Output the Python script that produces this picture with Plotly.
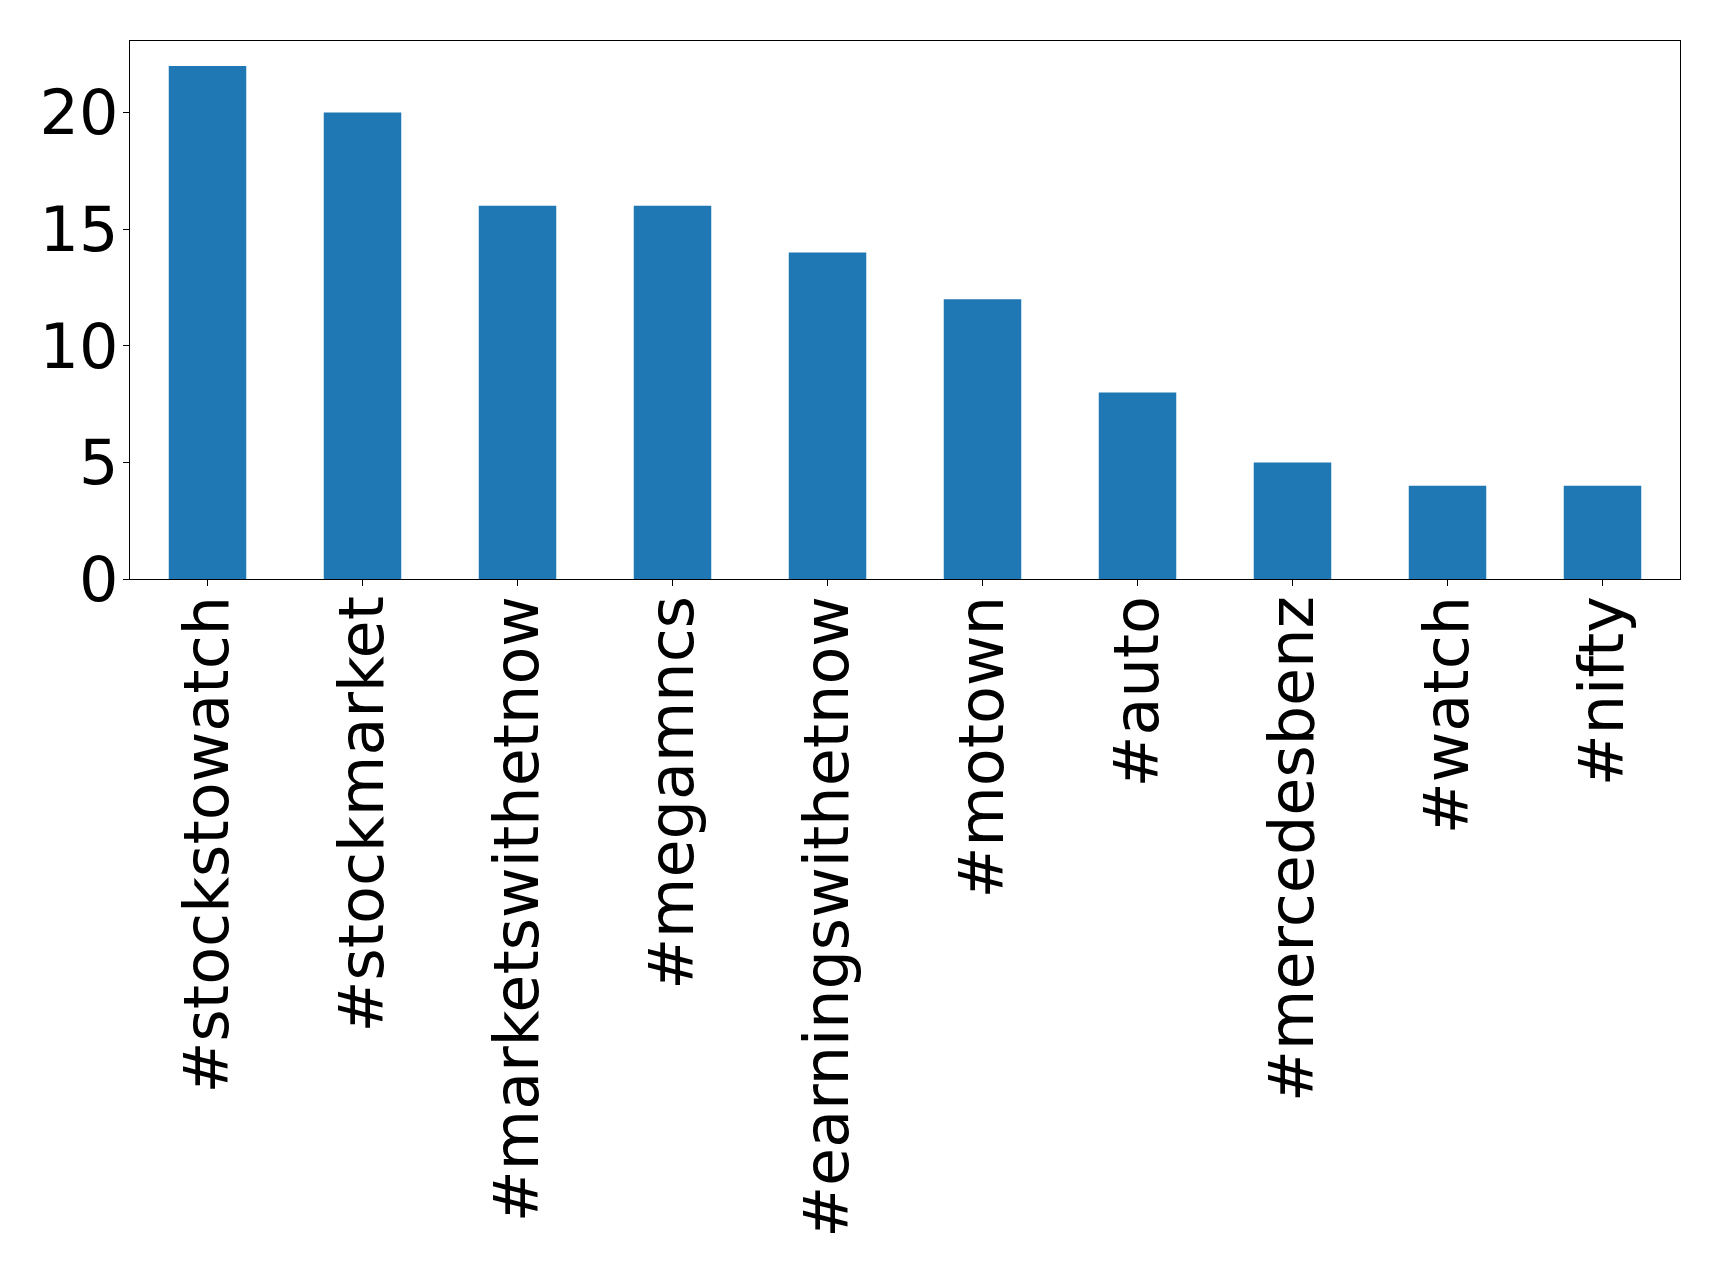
import plotly.graph_objects as go

categories = ["#stockstowatch", "#stockmarket", "#marketswithetnow", "#megamncs",
              "#earningswithetnow", "#motown", "#auto", "#mercedesbenz", "#watch", "#nifty"]
counts = [22, 20, 16, 16, 14, 12, 8, 5, 4, 4]
y_ticks = [0, 5, 10, 15, 20]

fig = go.Figure(go.Bar(x=categories, y=counts, marker=dict(color="#1f77b4", line=dict(width=0)),
                       width=0.5))

fig.update_layout(
    width=1711, height=1267,
    margin=dict(l=122, r=39, t=33, b=696, pad=0),
    paper_bgcolor="white", plot_bgcolor="white",
    font=dict(family="DejaVu Sans", size=62, color="black"),
    showlegend=False,
    bargap=0.5,
)
fig.update_xaxes(range=[-0.5, 9.5], tickangle=-90, ticks="outside", ticklen=6, tickwidth=1.3,
                 tickcolor="black", showline=True, linecolor="black", linewidth=1.3, mirror=True,
                 showgrid=False, tickfont=dict(size=62), automargin=False, ticklabelstandoff=-15)
fig.update_yaxes(range=[0, 23.07], tickvals=y_ticks, ticks="outside", ticklen=6, tickwidth=1.3,
                 tickcolor="black", showline=True, linecolor="black", linewidth=1.3, mirror=True,
                 showgrid=False, zeroline=False, tickfont=dict(size=62), automargin=False,
                 ticklabelstandoff=-8)

fig.write_html("out.html")
